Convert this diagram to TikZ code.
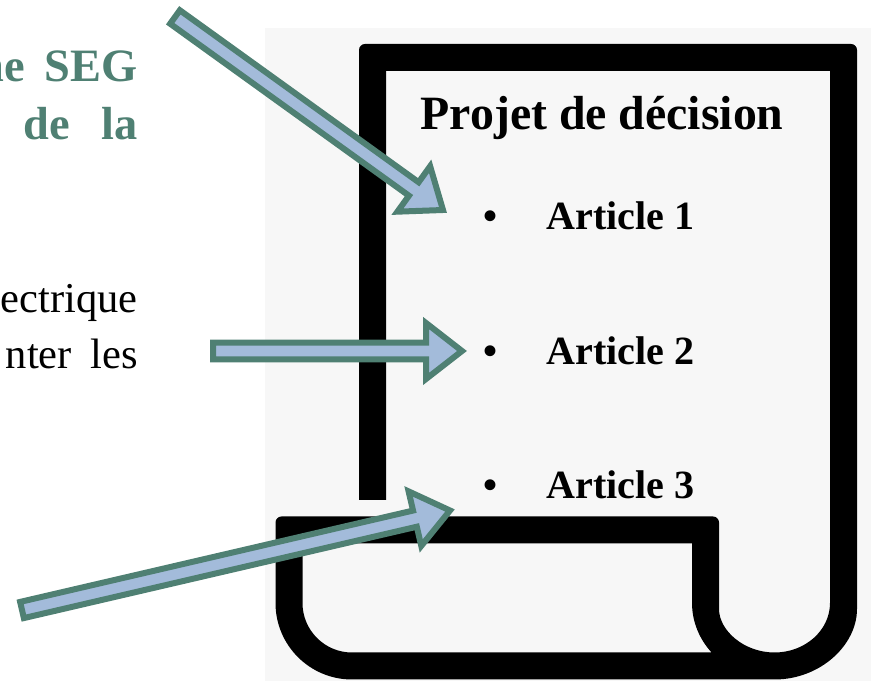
\documentclass[tikz,border=0pt]{standalone}
\usepackage{fontspec}
\setmainfont{Liberation Serif}
\usetikzlibrary{calc}

\definecolor{vertbord}{HTML}{4F8073}
\definecolor{bleufond}{HTML}{A3BBDA}
\definecolor{grisfond}{HTML}{F7F7F7}

\tikzset{
  titretexte/.style={inner sep=0pt,anchor=base west,font=\fontsize{13.6}{16}\selectfont\bfseries},
  articletexte/.style={inner sep=0pt,anchor=base west,font=\fontsize{11.4}{14}\selectfont\bfseries},
  vertetexte/.style={inner sep=0pt,anchor=base east,text=vertbord,font=\fontsize{13.2}{15}\selectfont\bfseries},
  noirtexte/.style={inner sep=0pt,anchor=base east,font=\fontsize{12.1}{15}\selectfont},
  flechebloc/.style={draw=vertbord,fill=bleufond,line width=0.06cm,line join=miter,
    to path={
      -- ($(\tikztostart)!0.083cm!90:(\tikztotarget)$)
      -- ($(\tikztotarget)!0.36cm!(\tikztostart)!0.083cm!-90:(\tikztostart)$)
      -- ($(\tikztotarget)!0.36cm!(\tikztostart)!0.28cm!-90:(\tikztostart)$)
      -- (\tikztotarget)
      -- ($(\tikztotarget)!0.36cm!(\tikztostart)!0.28cm!90:(\tikztostart)$)
      -- ($(\tikztotarget)!0.36cm!(\tikztostart)!0.083cm!90:(\tikztostart)$)
      -- ($(\tikztostart)!0.083cm!-90:(\tikztotarget)$)
      -- cycle}},
}

\begin{document}
\begin{tikzpicture}
    \useasboundingbox (0, 0) rectangle (8.74, 6.81);
    \clip (0, 0) rectangle (8.74, 6.81);

    % feuille
    \fill[grisfond] (2.65, 0) rectangle (8.71, 6.53);
    \fill[even odd rule] (3.59, 1.81) [rounded corners=0.06cm] -- (3.59, 6.37) -- (8.57, 6.37) -- (8.57, 0.78)
        [sharp corners] arc[start angle=0,end angle=-90,x radius=0.825,y radius=0.765]
        -- (3.52, 0.015) arc[start angle=270,end angle=180,x radius=0.765,y radius=0.765]
        [rounded corners=0.06cm] -- (2.755, 1.645) -- (7.19, 1.645) -- (7.19, 0.78)
        [sharp corners] arc[start angle=180,end angle=360,x radius=0.555,y radius=0.495]
        -- (8.30, 6.10) -- (3.86, 6.10) -- (3.86, 1.81) -- cycle
        (6.92, 1.375) -- (3.025, 1.375) -- (3.025, 0.78)
        arc[start angle=180,end angle=270,radius=0.495] -- (7.116, 0.285)
        arc[start angle=220.3,end angle=180,x radius=0.825,y radius=0.765] -- cycle;

    % texte coupe a gauche
    \node[vertetexte] (ligneA) at (1.385, 5.99) {ne\hspace{0.085cm} SEG};
    \node[vertetexte] (ligneB) at (1.385, 5.41) {de\hspace{0.2cm} la};
    \node[noirtexte] (ligneC) at (1.385, 3.68) {ectrique};
    \node[noirtexte] (ligneD) at (1.385, 3.12) {nter\hspace{0.08cm} les};

    % contenu de la feuille
    \node[titretexte] (titre) at (4.20, 5.51) {Projet de décision};
    \node[articletexte] (puceA) at (4.83, 4.51) {•};
    \node[articletexte] (articleA) at (5.46, 4.51) {Article 1};
    \node[articletexte] (puceB) at (4.83, 3.16) {•};
    \node[articletexte] (articleB) at (5.46, 3.16) {Article 2};
    \node[articletexte] (puceC) at (4.83, 1.82) {•};
    \node[articletexte] (articleC) at (5.46, 1.82) {Article 3};

    % fleches
    \coordinate (departA) at (1.75, 6.64);
    \coordinate (pointeA) at (4.43, 4.71);
    \coordinate (departB) at (2.13, 3.30);
    \coordinate (pointeB) at (4.62, 3.30);
    \coordinate (departC) at (0.22, 0.71);
    \coordinate (pointeC) at (4.50, 1.705);
    \draw[flechebloc] (departA) to (pointeA);
    \draw[flechebloc] (departB) to (pointeB);
    \draw[flechebloc] (departC) to (pointeC);
\end{tikzpicture}
\end{document}
